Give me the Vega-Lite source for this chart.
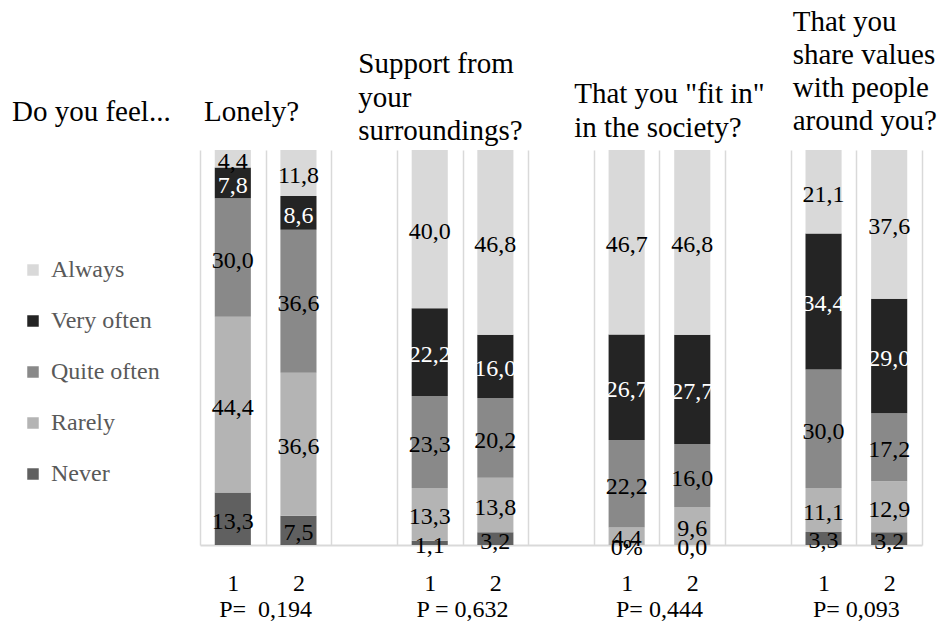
{
  "$schema": "https://vega.github.io/schema/vega-lite/v6.json",
  "width": 722,
  "height": 395,
  "autosize": {"type": "none"},
  "padding": {"left": 200, "top": 150, "right": 15, "bottom": 78},
  "background": "white",
  "config": {
    "view": {"stroke": null},
    "font": "Liberation Serif",
    "text": {"font": "Liberation Serif", "color": "black"},
    "axis": {"labelFont": "Liberation Serif"},
    "legend": {"labelFont": "Liberation Serif"}
  },
  "data": {
    "values": [
      {"bar": "Lonely 1", "answer": "Never", "level": 1, "value": 13.3, "label": "13,3"},
      {"bar": "Lonely 1", "answer": "Rarely", "level": 2, "value": 44.4, "label": "44,4"},
      {"bar": "Lonely 1", "answer": "Quite often", "level": 3, "value": 30.0, "label": "30,0"},
      {"bar": "Lonely 1", "answer": "Very often", "level": 4, "value": 7.8, "label": "7,8"},
      {"bar": "Lonely 1", "answer": "Always", "level": 5, "value": 4.4, "label": "4,4"},
      {"bar": "Lonely 2", "answer": "Never", "level": 1, "value": 7.5, "label": "7,5"},
      {"bar": "Lonely 2", "answer": "Rarely", "level": 2, "value": 36.6, "label": "36,6"},
      {"bar": "Lonely 2", "answer": "Quite often", "level": 3, "value": 36.6, "label": "36,6"},
      {"bar": "Lonely 2", "answer": "Very often", "level": 4, "value": 8.6, "label": "8,6"},
      {"bar": "Lonely 2", "answer": "Always", "level": 5, "value": 11.8, "label": "11,8"},
      {"bar": "Support 1", "answer": "Never", "level": 1, "value": 1.1, "label": "1,1"},
      {"bar": "Support 1", "answer": "Rarely", "level": 2, "value": 13.3, "label": "13,3"},
      {"bar": "Support 1", "answer": "Quite often", "level": 3, "value": 23.3, "label": "23,3"},
      {"bar": "Support 1", "answer": "Very often", "level": 4, "value": 22.2, "label": "22,2"},
      {"bar": "Support 1", "answer": "Always", "level": 5, "value": 40.0, "label": "40,0"},
      {"bar": "Support 2", "answer": "Never", "level": 1, "value": 3.2, "label": "3,2"},
      {"bar": "Support 2", "answer": "Rarely", "level": 2, "value": 13.8, "label": "13,8"},
      {"bar": "Support 2", "answer": "Quite often", "level": 3, "value": 20.2, "label": "20,2"},
      {"bar": "Support 2", "answer": "Very often", "level": 4, "value": 16.0, "label": "16,0"},
      {"bar": "Support 2", "answer": "Always", "level": 5, "value": 46.8, "label": "46,8"},
      {"bar": "Fit in 1", "answer": "Never", "level": 1, "value": 0.0, "label": "0%"},
      {"bar": "Fit in 1", "answer": "Rarely", "level": 2, "value": 4.4, "label": "4,4"},
      {"bar": "Fit in 1", "answer": "Quite often", "level": 3, "value": 22.2, "label": "22,2"},
      {"bar": "Fit in 1", "answer": "Very often", "level": 4, "value": 26.7, "label": "26,7"},
      {"bar": "Fit in 1", "answer": "Always", "level": 5, "value": 46.7, "label": "46,7"},
      {"bar": "Fit in 2", "answer": "Never", "level": 1, "value": 0.0, "label": "0,0"},
      {"bar": "Fit in 2", "answer": "Rarely", "level": 2, "value": 9.6, "label": "9,6"},
      {"bar": "Fit in 2", "answer": "Quite often", "level": 3, "value": 16.0, "label": "16,0"},
      {"bar": "Fit in 2", "answer": "Very often", "level": 4, "value": 27.7, "label": "27,7"},
      {"bar": "Fit in 2", "answer": "Always", "level": 5, "value": 46.8, "label": "46,8"},
      {"bar": "Shared values 1", "answer": "Never", "level": 1, "value": 3.3, "label": "3,3"},
      {"bar": "Shared values 1", "answer": "Rarely", "level": 2, "value": 11.1, "label": "11,1"},
      {"bar": "Shared values 1", "answer": "Quite often", "level": 3, "value": 30.0, "label": "30,0"},
      {"bar": "Shared values 1", "answer": "Very often", "level": 4, "value": 34.4, "label": "34,4"},
      {"bar": "Shared values 1", "answer": "Always", "level": 5, "value": 21.1, "label": "21,1"},
      {"bar": "Shared values 2", "answer": "Never", "level": 1, "value": 3.2, "label": "3,2"},
      {"bar": "Shared values 2", "answer": "Rarely", "level": 2, "value": 12.9, "label": "12,9"},
      {"bar": "Shared values 2", "answer": "Quite often", "level": 3, "value": 17.2, "label": "17,2"},
      {"bar": "Shared values 2", "answer": "Very often", "level": 4, "value": 29.0, "label": "29,0"},
      {"bar": "Shared values 2", "answer": "Always", "level": 5, "value": 37.6, "label": "37,6"}
    ]
  },
  "layer": [
    {
      "mark": {"type": "bar", "width": {"band": 0.55}},
      "encoding": {
        "x": {
          "field": "bar",
          "type": "nominal",
          "scale": {
            "domain": ["Lonely 1", "Lonely 2", "gap 1", "Support 1", "Support 2", "gap 2", "Fit in 1", "Fit in 2", "gap 3", "Shared values 1", "Shared values 2"],
            "paddingInner": 0,
            "paddingOuter": 0
          },
          "axis": {
            "title": null,
            "labelExpr": "indexof(datum.label, 'gap') == 0 ? '' : slice(datum.label, -1)",
            "labelAngle": 0,
            "labelFont": "Liberation Serif",
            "labelFontSize": 24,
            "labelColor": "black",
            "labelBaseline": "top",
            "labelPadding": 26,
            "tickBand": "extent",
            "ticks": false,
            "tickSize": 0,
            "grid": true,
            "gridColor": "#d9d9d9",
            "gridWidth": 1.5,
            "domainColor": "#d9d9d9",
            "domainWidth": 2
          }
        },
        "y": {
          "field": "value",
          "type": "quantitative",
          "stack": "normalize",
          "scale": {"domain": [0, 1]},
          "axis": null
        },
        "color": {
          "field": "answer",
          "type": "nominal",
          "scale": {
            "domain": ["Always", "Very often", "Quite often", "Rarely", "Never"],
            "range": ["#d9d9d9", "#242424", "#898989", "#b4b4b4", "#606060"]
          },
          "legend": {
            "title": null,
            "orient": "none",
            "legendX": -179,
            "legendY": 108,
            "direction": "vertical",
            "padding": 0,
            "symbolType": "square",
            "symbolSize": 132,
            "symbolStrokeWidth": 0,
            "labelFont": "Liberation Serif",
            "labelFontSize": 24,
            "labelColor": "#595959",
            "labelOffset": 6,
            "rowPadding": 27
          }
        },
        "order": {"field": "level", "type": "quantitative"}
      }
    },
    {
      "mark": {"type": "text", "font": "Liberation Serif", "fontSize": 24, "baseline": "middle", "dy": 3},
      "encoding": {
        "x": {"field": "bar", "type": "nominal"},
        "y": {"field": "value", "type": "quantitative", "stack": "normalize", "bandPosition": 0.5},
        "detail": {"field": "answer"},
        "order": {"field": "level", "type": "quantitative"},
        "text": {"field": "label"},
        "color": {
          "condition": {"test": "datum.answer === 'Very often'", "value": "white"},
          "value": "black"
        }
      }
    },
    {
      "data": {"values": [{"title": "Do you feel..."}]},
      "mark": {"type": "text", "font": "Liberation Serif", "align": "left", "baseline": "alphabetic", "fontSize": 29, "dx": -188, "dy": -29},
      "encoding": {
        "x": {"datum": "Lonely 1", "bandPosition": 0},
        "y": {"datum": 1},
        "text": {"field": "title"}
      }
    },
    {
      "data": {"values": [{"title": "Lonely?"}]},
      "mark": {"type": "text", "font": "Liberation Serif", "align": "left", "baseline": "alphabetic", "fontSize": 29, "dx": 4, "dy": -29},
      "encoding": {
        "x": {"datum": "Lonely 1", "bandPosition": 0},
        "y": {"datum": 1},
        "text": {"field": "title"}
      }
    },
    {
      "data": {"values": [{"title": "Support from\nyour\nsurroundings?"}]},
      "mark": {"type": "text", "font": "Liberation Serif", "align": "left", "baseline": "alphabetic", "fontSize": 29, "lineBreak": "\n", "lineHeight": 33.5, "dx": 27, "dy": -77},
      "encoding": {
        "x": {"datum": "gap 1", "bandPosition": 0},
        "y": {"datum": 1},
        "text": {"field": "title"}
      }
    },
    {
      "data": {"values": [{"title": "That you \"fit in\"\nin the society?"}]},
      "mark": {"type": "text", "font": "Liberation Serif", "align": "left", "baseline": "alphabetic", "fontSize": 29, "lineBreak": "\n", "lineHeight": 33.5, "dx": 46, "dy": -47},
      "encoding": {
        "x": {"datum": "gap 2", "bandPosition": 0},
        "y": {"datum": 1},
        "text": {"field": "title"}
      }
    },
    {
      "data": {"values": [{"title": "That you\nshare values\nwith people\naround you?"}]},
      "mark": {"type": "text", "font": "Liberation Serif", "align": "left", "baseline": "alphabetic", "fontSize": 29, "lineBreak": "\n", "lineHeight": 33, "dx": 2, "dy": -119},
      "encoding": {
        "x": {"datum": "Shared values 1", "bandPosition": 0},
        "y": {"datum": 1},
        "text": {"field": "title"}
      }
    },
    {
      "data": {
        "values": [
          {"bar": "Lonely 2", "p": "P=\u00a0 0,194"},
          {"bar": "Support 2", "p": "P = 0,632"},
          {"bar": "Fit in 2", "p": "P= 0,444"},
          {"bar": "Shared values 2", "p": "P= 0,093"}
        ]
      },
      "mark": {"type": "text", "font": "Liberation Serif", "align": "center", "baseline": "alphabetic", "fontSize": 24, "dy": 72},
      "encoding": {
        "x": {"field": "bar", "type": "nominal", "bandPosition": 0},
        "y": {"datum": 0},
        "text": {"field": "p"}
      }
    }
  ]
}
